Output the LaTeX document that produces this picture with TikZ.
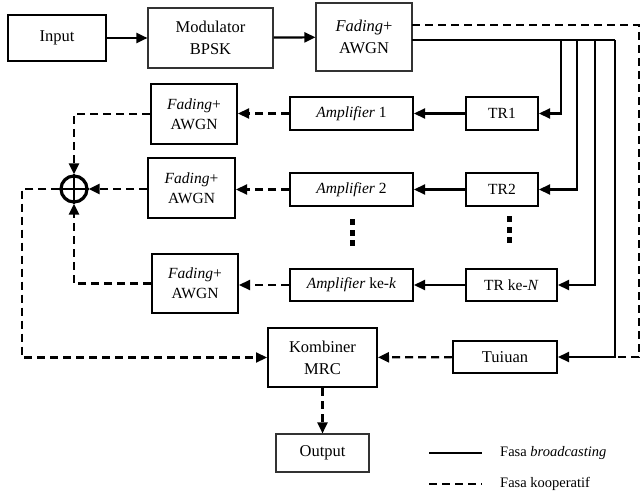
\documentclass[tikz,border=0pt]{standalone}
\usepackage{fontspec}
\setmainfont{Liberation Serif}
\usetikzlibrary{arrows.meta,calc}
\begin{document}
\begin{tikzpicture}[x=1pt,y=-1pt,
 thickbox/.style={draw,line width=2pt,align=center,inner sep=0pt,font=\fontsize{15.5}{20}\selectfont},
 thinbox/.style={draw=black!80,line width=1.1pt,align=center,inner sep=0pt,font=\fontsize{16.5}{22}\selectfont},
 sol/.style={line width=2.2pt},
 dsh/.style={line width=2.2pt,dash pattern=on 8pt off 5pt},
 arr/.style={-{Triangle[length=11pt,width=10pt]}},
 legtext/.style={anchor=west,inner sep=0pt,font=\fontsize{14.5}{17}\selectfont},
 dotsq/.style={fill=black},
]
\useasboundingbox (0,0) rectangle (642,492);
% top row
\node[thickbox,minimum width=98pt,minimum height=46pt,font=\fontsize{16.5}{22}\selectfont] (input) at (57,38) {Input};
\node[thinbox,minimum width=125pt,minimum height=60pt] (mod) at (210.5,38) {Modulator\\BPSK};
\node[thinbox,minimum width=96pt,minimum height=68pt] (fadt) at (364,37) {\textit{Fading}+\\AWGN};
% relays
\node[thickbox,minimum width=72pt,minimum height=33pt] (tr1) at (502,113.5) {TR1};
\node[thickbox,minimum width=72pt,minimum height=33pt] (tr2) at (502,189.5) {TR2};
\node[thickbox,minimum width=91pt,minimum height=32pt] (trn) at (511.5,285) {TR ke-\textit{N}};
\node[thickbox,minimum width=104pt,minimum height=32pt,font=\fontsize{16.5}{22}\selectfont] (tuj) at (505,357) {Tuiuan};
\node[thickbox,minimum width=123pt,minimum height=33pt] (amp1) at (351.5,113.5) {\textit{Amplifier} 1};
\node[thickbox,minimum width=123pt,minimum height=33pt] (amp2) at (351.5,189.5) {\textit{Amplifier} 2};
\node[thickbox,minimum width=123pt,minimum height=32pt] (ampk) at (351.5,285) {\textit{Amplifier} ke-\textit{k}};
\node[thickbox,minimum width=86pt,minimum height=60pt] (f1) at (194,114) {\textit{Fading}+\\AWGN};
\node[thickbox,minimum width=87pt,minimum height=60pt] (f2) at (191.5,188) {\textit{Fading}+\\AWGN};
\node[thickbox,minimum width=86pt,minimum height=59pt] (f3) at (195,283.5) {\textit{Fading}+\\AWGN};
\node[draw,circle,line width=3.2pt,minimum size=26pt,inner sep=0pt] (sum) at (74,189) {};
\draw[line width=2.8pt] (sum.north) -- (sum.south) (sum.west) -- (sum.east);
\node[thickbox,minimum width=109pt,minimum height=59pt,font=\fontsize{16.5}{22}\selectfont] (komb) at (322.5,357.5) {Kombiner\\MRC};
\node[thinbox,minimum width=93pt,minimum height=38pt] (out) at (322.5,453) {Output};
% dots
\foreach \yy in {222,233,243} \fill[dotsq] (350,\yy-3) rectangle (355,\yy+3);
\foreach \yy in {219,230,240} \fill[dotsq] (507,\yy-3) rectangle (512,\yy+3);
% coordinates
\coordinate (bs) at (412,40);
\coordinate (b1) at (561,40);
\coordinate (b2) at (577,40);
\coordinate (b3) at (595,40);
\coordinate (b4) at (615,40);
\coordinate (ds) at (412,25);
\coordinate (d1) at (639,25);
\coordinate (d2) at (639,357);
\coordinate (d3) at (617,357);
% solid connectors
\draw[sol,arr] (input) -- (mod);
\draw[sol,arr] (mod) -- (fadt);
\draw[sol] (bs) -- (b4);
\draw[sol,arr] (b1) |- (tr1.east);
\draw[sol,arr] (b2) |- (tr2.east);
\draw[sol,arr] (b3) |- (trn.east);
\draw[sol,arr] (b4) |- (tuj.east);
\draw[sol,arr] (tr1) -- (amp1);
\draw[sol,arr] (tr2) -- (amp2);
\draw[sol,arr] (trn) -- (ampk);
% dashed connectors
\draw[dsh] (ds) -- (d1) -- (d2) -- (d3);
\draw[dsh,arr] (amp1) -- (f1.east |- amp1.west);
\draw[dsh,arr] (amp2) -- (f2.east |- amp2.west);
\draw[dsh,arr] (ampk) -- (f3.east |- ampk.west);
\draw[dsh,arr] (f1.west) -| (sum.north);
\draw[dsh,arr] (f2.west |- sum.east) -- (sum.east);
\draw[dsh,arr] (f3.west) -| (sum.south);
\coordinate (lc) at (22,189);
\draw[dsh,arr] (sum.west) -- (lc) |- (komb.west);
\draw[dsh,arr] (tuj) -- (komb);
\draw[dsh,arr] (komb) -- (out);
% legend
\coordinate (l1a) at (429,453);
\coordinate (l1b) at (482,453);
\coordinate (l2a) at (429,484);
\coordinate (l2b) at (482,484);
\draw[line width=1.6pt] (l1a) -- (l1b);
\draw[line width=1.6pt,dash pattern=on 8pt off 5pt] (l2a) -- (l2b);
\node[legtext] (lg1) at (500,453) {Fasa \textit{broadcasting}};
\node[legtext] (lg2) at (500,484) {Fasa kooperatif};
\end{tikzpicture}
\end{document}
